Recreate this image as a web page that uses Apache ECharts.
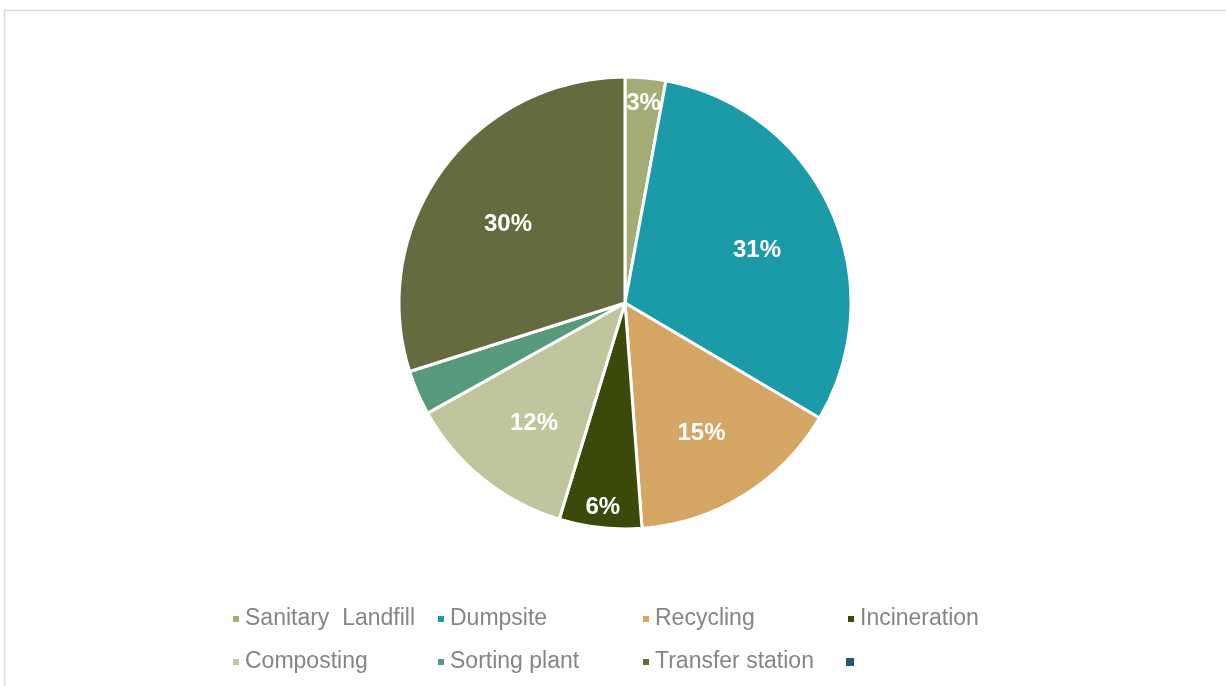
<!DOCTYPE html>
<html>
<head>
<meta charset="utf-8">
<script src="https://cdn.jsdelivr.net/npm/echarts@6/dist/echarts.min.js"></script>
<style>
html,body{margin:0;padding:0;background:#fff;}
#chart{width:1226px;height:686px;}
</style>
</head>
<body>
<div id="chart"></div>
<script>
const categories = ['Sanitary  Landfill', 'Dumpsite', 'Recycling', 'Incineration', 'Composting', 'Sorting plant', 'Transfer station', ' '];
const values = [2.9, 30.6, 15.3, 5.9, 12.2, 3.2, 29.9, 0];
const palette = ['#A2AD75', '#1B9AA8', '#D5A563', '#3B4A0A', '#C0C59D', '#559A7A', '#656B3F', '#1D5D6B'];
const innerLabelNames = ['Dumpsite', 'Recycling', 'Composting', 'Transfer station'];
const outerLabelNames = ['Sanitary  Landfill', 'Incineration'];

const chart = echarts.init(document.getElementById('chart'), null, {renderer: 'canvas'});
const FONT = '"Liberation Sans", Arial, sans-serif';

const mainData = categories.map((n, i) => ({
  name: n, value: values[i],
  itemStyle: {color: palette[i], borderColor: '#fff', borderWidth: values[i] > 0 ? 3 : 0}
}));

function overlayData(showNames) {
  return categories.map((n, i) => ({
    name: n, value: values[i],
    itemStyle: {color: 'rgba(0,0,0,0)', borderWidth: 0},
    label: {show: showNames.indexOf(n) >= 0}
  }));
}

const labelStyle = {
  position: 'inside', color: '#fff', fontWeight: 'bold', fontSize: 24, fontFamily: FONT,
  formatter: p => Math.round(p.percent) + '%'
};

function legendRow(names, top) {
  return {
    data: names, left: 231, top: top, orient: 'horizontal',
    itemWidth: 8, itemHeight: 8, itemGap: 0, padding: 0, icon: 'rect',
    selectedMode: false,
    textStyle: {fontSize: 23, fontFamily: FONT, color: '#858585', width: 191, lineHeight: 24, overflow: 'none'}
  };
}

chart.setOption({
  animation: false,
  backgroundColor: '#fff',
  graphic: [{
    type: 'rect', shape: {x: 4.5, y: 10.5, width: 1240, height: 700},
    style: {fill: 'none', stroke: '#dcdcdc', lineWidth: 1.5}, silent: true, z: -1
  }],
  legend: [
    legendRow(categories.slice(0, 4), 607),
    legendRow(categories.slice(4, 8), 650)
  ],
  series: [
    {
      type: 'pie', name: 'main', center: [625, 303], radius: [0, 226],
      startAngle: 90, clockwise: true, silent: true,
      label: {show: false}, labelLine: {show: false},
      emphasis: {disabled: true},
      data: mainData
    },
    {
      type: 'pie', name: 'labA', center: [625, 310], radius: [0, 284],
      startAngle: 90, clockwise: true, silent: true, z: 5,
      label: labelStyle, labelLine: {show: false},
      emphasis: {disabled: true},
      data: overlayData(innerLabelNames)
    },
    {
      type: 'pie', name: 'labB', center: [625, 306], radius: [0, 400],
      startAngle: 90, clockwise: true, silent: true, z: 5,
      label: labelStyle, labelLine: {show: false},
      emphasis: {disabled: true},
      data: overlayData(outerLabelNames)
    }
  ]
});
</script>
</body>
</html>
